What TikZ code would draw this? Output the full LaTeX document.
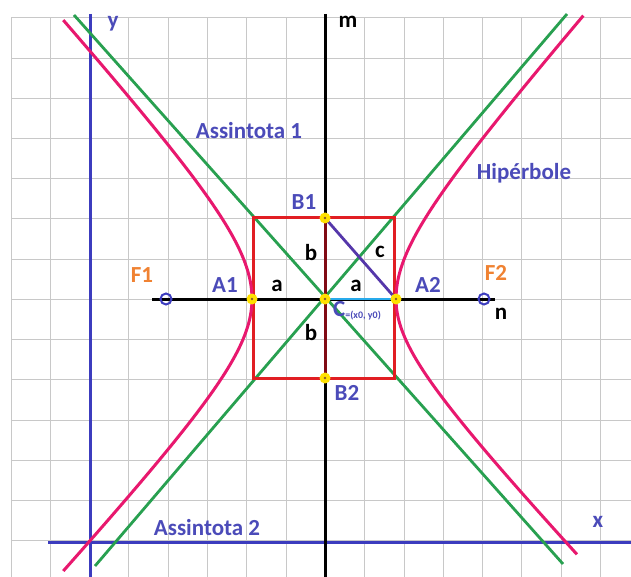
\documentclass[tikz,border=0pt]{standalone}
\usepackage{fontspec}
\setmainfont{Carlito}
\definecolor{gridc}{RGB}{200,200,200}
\definecolor{axblue}{RGB}{60,60,190}
\definecolor{txtblue}{RGB}{75,75,185}
\definecolor{asgreen}{RGB}{40,160,80}
\definecolor{hypink}{RGB}{232,24,110}
\definecolor{rectred}{RGB}{225,30,35}
\definecolor{darkred}{RGB}{128,10,20}
\definecolor{lightblue}{RGB}{40,170,235}
\definecolor{cpurple}{RGB}{85,55,170}
\definecolor{forange}{RGB}{240,130,50}
\definecolor{dotyellow}{RGB}{255,225,0}
\begin{document}
\begin{tikzpicture}[x=1pt,y=-1pt,
  gridline/.style={draw=gridc,line width=1pt},
  blueaxis/.style={draw=axblue,line width=3pt},
  blackaxis/.style={draw=black,line width=3pt},
  asym/.style={draw=asgreen,line width=2.8pt},
  hyp/.style={draw=hypink,line width=3pt},
  rectline/.style={draw=rectred,line width=3pt},
  lbl/.style={font=\bfseries\fontsize{23}{23}\selectfont,text=txtblue,inner sep=0pt},
  flbl/.style={font=\bfseries\fontsize{23}{23}\selectfont,text=forange,inner sep=0pt},
  klbl/.style={font=\bfseries\fontsize{23}{23}\selectfont,text=black,inner sep=0pt},
  vdot/.style={circle,fill=dotyellow,minimum size=11pt,inner sep=0pt},
  focus/.style={circle,draw=axblue,line width=2pt,minimum size=11pt,inner sep=0pt}]
\useasboundingbox (0,0) rectangle (631,577);
\fill[white] (0,0) rectangle (631,577);
% grid
\foreach \k in {0,...,15} \draw[gridline] ({11+39.3*\k},18) -- ({11+39.3*\k},577);
\foreach \k in {0,...,13} \draw[gridline] (11,{18+40.2*\k}) -- (631,{18+40.2*\k});
% key points
\coordinate (C) at (325,299);
\coordinate (A1) at (252,299);
\coordinate (A2) at (396,299);
\coordinate (B1) at (325,218);
\coordinate (B2) at (325,378);
\coordinate (RL) at (253,218);
\coordinate (RR) at (394,378);
% axes
\coordinate (yt) at (90,14);
\coordinate (yb) at (90,577);
\coordinate (xl) at (48,542);
\coordinate (xr) at (631,542);
\coordinate (mt) at (325,14);
\coordinate (mb) at (325,577);
\coordinate (nl) at (152,299);
\coordinate (nr) at (495,299);
\draw[blueaxis] (yt) -- (yb);
\draw[blueaxis] (xl) -- (xr);
\draw[blackaxis] (mt) -- (mb);
\draw[blackaxis] (nl) -- (nr);
% asymptotes
\coordinate (g1a) at (74,15);
\coordinate (g1b) at (563,564);
\coordinate (g2a) at (95,566);
\coordinate (g2b) at (567,14);
\draw[asym] (g1a) -- (g1b);
\draw[asym] (g2a) -- (g2b);
% rectangle
\draw[rectline] (RL) rectangle (RR);
\draw[draw=darkred,line width=3pt] (B1) -- (B2);
% hyperbola
\draw[hyp] plot[domain=0:1.966,samples=60,variable=\t] ({325+71*cosh(\t)},{299-81*sinh(\t)});
\draw[hyp] plot[domain=0:1.94,samples=60,variable=\t] ({325+71*cosh(\t)},{299+75*sinh(\t)});
\draw[hyp] plot[domain=0:1.95,samples=60,variable=\t] ({325-73*cosh(\t)},{299-81*sinh(\t)});
\draw[hyp] plot[domain=0:1.95,samples=60,variable=\t] ({325-73*cosh(\t)},{299+79*sinh(\t)});
% segments
\draw[draw=lightblue,line width=2.8pt] (C) -- (A2);
\draw[draw=cpurple,line width=2.8pt] (B1) -- (A2);
% foci
\node[focus] (F1) at (166,299) {};
\node[focus] (F2) at (484,299) {};
% vertex dots
\foreach \p in {A1,A2,B1,B2,C} {
  \node[vdot] (d\p) at (\p) {};
  \fill[brown!70!black] (\p) circle (1.3pt);
}
% labels
\node[lbl] (ly) at (113,24) {y};
\node[lbl] (lx) at (598,522) {x};
\node[klbl] (lm) at (348,22) {m};
\node[klbl] (ln) at (501,314) {n};
\node[lbl] (las1) at (249,131) {Assintota 1};
\node[lbl] (lhip) at (524,173) {Hipérbole};
\node[lbl] (las2) at (207,528) {Assintota 2};
\node[lbl] (lB1) at (304,202) {B1};
\node[lbl] (lB2) at (347,393) {B2};
\node[lbl] (lA1) at (225,285) {A1};
\node[lbl] (lA2) at (428,285) {A2};
\node[flbl] (lF1) at (142,275) {F1};
\node[flbl] (lF2) at (496,273) {F2};
\node[klbl] (la1) at (277,286) {a};
\node[klbl] (la2) at (356,286) {a};
\node[klbl] (lb1) at (311,253) {b};
\node[klbl] (lb2) at (311,333) {b};
\node[klbl] (lc) at (380,252) {c};
\node[lbl,anchor=west] (lC) at (333,311) {C\raisebox{-2pt}{\fontsize{10}{10}\selectfont =(x0, y0)}};
\end{tikzpicture}
\end{document}
